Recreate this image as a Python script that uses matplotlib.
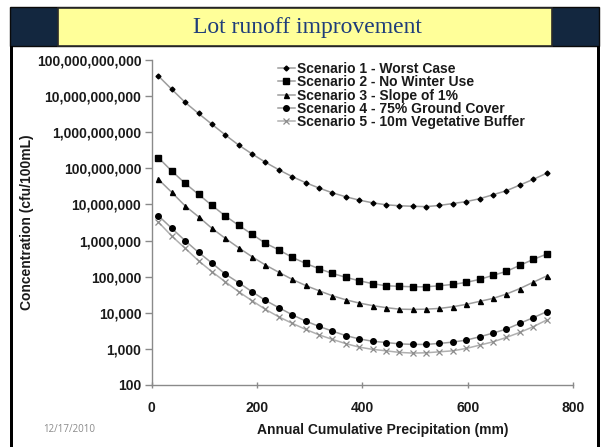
import matplotlib
matplotlib.use("Agg")
import matplotlib.pyplot as plt
from matplotlib.patches import Rectangle
from matplotlib.ticker import FuncFormatter, FixedLocator, NullLocator

# annual cumulative precipitation (mm)
precip = [12.7, 38.1, 63.5, 88.9, 114.3, 139.7, 165.1, 190.5, 215.9, 241.3,
          266.7, 292.1, 317.5, 342.9, 368.3, 393.7, 419.1, 444.5, 469.9, 495.3,
          520.7, 546.1, 571.5, 596.9, 622.3, 647.7, 673.1, 698.5, 723.9, 749.3]

# concentration (cfu/100mL)
scen1 = [3.6e10, 1.54e10, 6.7e9, 3.3e9, 1.66e9, 8.4e8, 4.4e8, 2.5e8, 1.47e8, 9.1e7,
         5.9e7, 4.0e7, 2.85e7, 2.1e7, 1.63e7, 1.32e7, 1.11e7, 9.8e6, 9.2e6, 8.9e6,
         8.7e6, 9.4e6, 1.06e7, 1.2e7, 1.44e7, 1.86e7, 2.4e7, 3.44e7, 4.95e7, 7.3e7]
scen2 = [1.97e8, 8.4e7, 3.84e7, 1.9e7, 9.4e6, 4.8e6, 2.64e6, 1.49e6, 8.4e5, 5.5e5,
         3.42e5, 2.33e5, 1.66e5, 1.23e5, 9.6e4, 7.7e4, 6.4e4, 5.6e4, 5.4e4, 5.25e4,
         5.25e4, 5.6e4, 6.1e4, 6.95e4, 8.4e4, 1.09e5, 1.4e5, 2.06e5, 3.0e5, 4.2e5]
scen3 = [4.95e7, 2.16e7, 9.1e6, 4.56e6, 2.18e6, 1.15e6, 6.3e5, 3.56e5, 2.1e5, 1.32e5,
         8.4e4, 5.7e4, 4.07e4, 2.96e4, 2.29e4, 1.86e4, 1.58e4, 1.39e4, 1.26e4, 1.24e4,
         1.26e4, 1.32e4, 1.47e4, 1.71e4, 2.07e4, 2.5e4, 3.3e4, 4.68e4, 7.0e4, 1.04e5]
scen4 = [4.86e6, 2.18e6, 9.9e5, 4.7e5, 2.38e5, 1.18e5, 6.8e4, 3.82e4, 2.2e4, 1.38e4,
         8.8e3, 5.9e3, 4.2e3, 3.11e3, 2.33e3, 1.89e3, 1.63e3, 1.5e3, 1.38e3, 1.33e3,
         1.33e3, 1.42e3, 1.54e3, 1.75e3, 2.16e3, 2.74e3, 3.53e3, 5.1e3, 7.3e3, 1.07e4]
scen5 = [3.25e6, 1.33e6, 6.1e5, 2.75e5, 1.37e5, 7.2e4, 3.82e4, 2.15e4, 1.24e4, 7.7e3,
         5.1e3, 3.47e3, 2.45e3, 1.83e3, 1.4e3, 1.12e3, 970, 885, 800, 765,
         780, 830, 885, 1030, 1270, 1570, 2080, 2860, 4100, 6300]

labels = ["Scenario 1 - Worst Case", "Scenario 2 - No Winter Use",
          "Scenario 3 - Slope of 1%", "Scenario 4 - 75% Ground Cover",
          "Scenario 5 - 10m Vegetative Buffer"]
yticks = [1e2, 1e3, 1e4, 1e5, 1e6, 1e7, 1e8, 1e9, 1e10, 1e11]
xticks = [0, 200, 400, 600, 800]

W, H = 602, 447
plt.rcParams['font.family'] = ['Liberation Sans', 'DejaVu Sans']

fig = plt.figure(figsize=(W / 100, H / 100), dpi=100)
fig.patch.set_facecolor("white")


def box(x0, y0, x1, y1, **kw):
    # rectangle given in pixel coords (origin top-left)
    r = Rectangle((x0 / W, 1 - y1 / H), (x1 - x0) / W, (y1 - y0) / H,
                  transform=fig.transFigure, **kw)
    fig.patches.append(r)


# slide frame
box(10, 7, 599, 46, facecolor="#13273f", edgecolor="#0a0a0a", lw=1)
box(10, 46, 12.5, 447, facecolor="black", edgecolor="none")
box(597, 46, 599.5, 447, facecolor="black", edgecolor="none")
box(58, 8, 552, 46, facecolor="#ffff99", edgecolor="#2a2a2a", lw=1.2)
fig.text(307 / W, 1 - 27 / H, "Lot runoff improvement", ha="center", va="center",
         fontsize=17, color="#1f3d7a", family=["Liberation Serif", "DejaVu Serif"])

ax = fig.add_axes([151.7 / W, 1 - 385 / H, (573.3 - 151.7) / W, (385 - 60) / H])
ax.set_yscale("log")
ax.set_xlim(0, 800)
ax.set_ylim(1e2, 1e11)

line_c = "#9c9c9c"
ax.plot(precip, scen1, color=line_c, lw=1.1, marker="D", ms=2.5, mfc="black", mec="black", label=labels[0])
ax.plot(precip, scen2, color=line_c, lw=1.1, marker="s", ms=3.8, mfc="black", mec="black", label=labels[1])
ax.plot(precip, scen3, color=line_c, lw=1.1, marker="^", ms=3.6, mfc="black", mec="black", label=labels[2])
ax.plot(precip, scen4, color=line_c, lw=1.1, marker="o", ms=4, mfc="black", mec="black", label=labels[3])
ax.plot(precip, scen5, color="#b0b0b0", lw=1.1, marker="x", ms=4.5, mew=0.9, mfc="#8c8c8c", mec="#8c8c8c", label=labels[4])

for s in ["top", "right"]:
    ax.spines[s].set_visible(False)
for s in ["left", "bottom"]:
    ax.spines[s].set_color("#8a8a8a")
    ax.spines[s].set_linewidth(1)

ax.yaxis.set_major_locator(FixedLocator(yticks))
ax.yaxis.set_minor_locator(NullLocator())
ax.yaxis.set_major_formatter(FuncFormatter(lambda v, p: "{:,}".format(int(round(v)))))
ax.set_xticks(xticks)
ax.tick_params(axis="y", direction="out", length=5, width=1, color="#8a8a8a", pad=2.5,
               labelsize=10, labelcolor="#1a1a1a")
ax.tick_params(axis="x", direction="inout", length=5, width=1, color="#8a8a8a", pad=9,
               labelsize=10, labelcolor="#1a1a1a")
for t in ax.get_xticklabels() + ax.get_yticklabels():
    t.set_fontweight("bold")

fig.text(27 / W, 1 - 222 / H, "Concentration (cfu/100mL)", rotation=90, ha="center",
         va="center", fontsize=10, fontweight="bold", color="#1a1a1a")
fig.text(383 / W, 1 - 430 / H, "Annual Cumulative Precipitation (mm)", ha="center",
         va="center", fontsize=10, fontweight="bold", color="#1a1a1a")
fig.text(69 / W, 1 - 430 / H, "12/17/2010", ha="center", va="center", fontsize=7,
         color="#8a8a8a", family=["Open Sans", "DejaVu Sans"])

leg = ax.legend(loc="upper left", bbox_to_anchor=(278 / W, 1 - 62 / H),
                bbox_transform=fig.transFigure, frameon=False, fontsize=10,
                handlelength=1.2, handletextpad=0.2, labelspacing=-0.05,
                borderpad=0, borderaxespad=0)
for t in leg.get_texts():
    t.set_fontweight("bold")
    t.set_color("#1a1a1a")

fig.savefig("out.png", dpi=100)
